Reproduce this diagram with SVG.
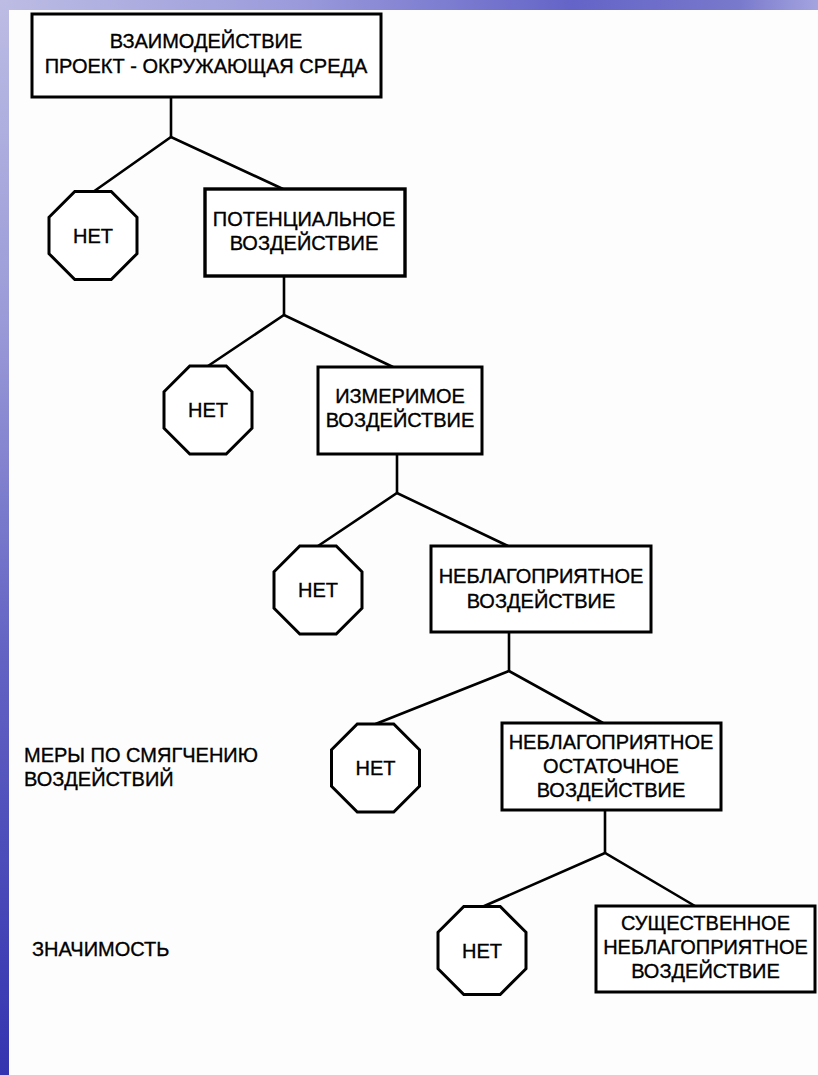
<svg xmlns="http://www.w3.org/2000/svg" width="818" height="1075" viewBox="0 0 818 1075">
<defs>
<linearGradient id="topg" x1="0" y1="0" x2="1" y2="0">
<stop offset="0" stop-color="#bcbce4"/>
<stop offset="0.35" stop-color="#9c9cdc"/>
<stop offset="0.7" stop-color="#6464c8"/>
<stop offset="0.9" stop-color="#7878cc"/>
<stop offset="1" stop-color="#a4a4e0"/>
</linearGradient>
<linearGradient id="leftg" x1="0" y1="0" x2="0" y2="1">
<stop offset="0" stop-color="#bcbce4"/>
<stop offset="0.3" stop-color="#9a9ad8"/>
<stop offset="0.6" stop-color="#6464c4"/>
<stop offset="1" stop-color="#3434b0"/>
</linearGradient>
<polygon id="oct" points="-18.2,-44 18.2,-44 44,-18.2 44,18.2 18.2,44 -18.2,44 -44,18.2 -44,-18.2"/>
</defs>
<style>
.box{fill:#ffffff;stroke:#000;stroke-width:3}
.oct{fill:#ffffff;stroke:#000;stroke-width:3}
.ln{fill:none;stroke:#000;stroke-width:2.6;stroke-linejoin:miter}
.t{font-family:"Liberation Sans",Arial,sans-serif;font-size:20px;fill:#000;stroke:#000;stroke-width:0.35;text-anchor:middle}
.lbl{font-family:"Liberation Sans",Arial,sans-serif;font-size:20px;fill:#000;stroke:#000;stroke-width:0.35}
</style>
<rect x="0" y="0" width="818" height="1075" fill="#fdfdfd"/>
<rect x="0" y="0" width="818" height="10" fill="url(#topg)"/>
<rect x="0" y="0" width="9" height="1075" fill="url(#leftg)"/>

<g id="connectors">
<polyline class="ln" points="171,97 171,137"/>
<polyline class="ln" points="93,192 171,137 283,189"/>
<polyline class="ln" points="284,276 284,315"/>
<polyline class="ln" points="208,366 284,315 393,367"/>
<polyline class="ln" points="397,454 397,493"/>
<polyline class="ln" points="318,546 397,493 508,546"/>
<polyline class="ln" points="509,632 509,671"/>
<polyline class="ln" points="375.5,724 509,671 603,723"/>
<polyline class="ln" points="605,810 605,853"/>
<polyline class="ln" points="482,907 605,853 695,906"/>
</g>

<g id="n1">
<rect class="box" x="32" y="14" width="349" height="83"/>
<text class="t" x="206" y="48">ВЗАИМОДЕЙСТВИЕ</text>
<text class="t" x="206" y="73">ПРОЕКТ - ОКРУЖАЮЩАЯ СРЕДА</text>
</g>
<g id="no1">
<use href="#oct" class="oct" x="93" y="235.5"/>
<text class="t" x="93" y="243">НЕТ</text>
</g>
<g id="n2">
<rect class="box" x="205" y="189" width="200" height="87" style="stroke-width:3.4"/>
<text class="t" x="304" y="226">ПОТЕНЦИАЛЬНОЕ</text>
<text class="t" x="304" y="250">ВОЗДЕЙСТВИЕ</text>
</g>
<g id="no2">
<use href="#oct" class="oct" x="208" y="410"/>
<text class="t" x="208" y="417">НЕТ</text>
</g>
<g id="n3">
<rect class="box" x="318" y="367" width="164" height="87"/>
<text class="t" x="400" y="403">ИЗМЕРИМОЕ</text>
<text class="t" x="400" y="427">ВОЗДЕЙСТВИЕ</text>
</g>
<g id="no3">
<use href="#oct" class="oct" x="318" y="590"/>
<text class="t" x="318" y="597">НЕТ</text>
</g>
<g id="n4">
<rect class="box" x="431" y="546" width="220" height="86"/>
<text class="t" x="541" y="583">НЕБЛАГОПРИЯТНОЕ</text>
<text class="t" x="541" y="608">ВОЗДЕЙСТВИЕ</text>
</g>
<g id="no4">
<use href="#oct" class="oct" x="375.5" y="768"/>
<text class="t" x="375.5" y="775">НЕТ</text>
</g>
<g id="n5">
<rect class="box" x="502" y="723" width="219" height="87"/>
<text class="t" x="611" y="749">НЕБЛАГОПРИЯТНОЕ</text>
<text class="t" x="611" y="773">ОСТАТОЧНОЕ</text>
<text class="t" x="611" y="797">ВОЗДЕЙСТВИЕ</text>
</g>
<g id="no5">
<use href="#oct" class="oct" x="482" y="950.5"/>
<text class="t" x="482" y="957.5">НЕТ</text>
</g>
<g id="n6">
<rect class="box" x="596" y="906" width="219" height="86"/>
<text class="t" x="705.5" y="930">СУЩЕСТВЕННОЕ</text>
<text class="t" x="705.5" y="954">НЕБЛАГОПРИЯТНОЕ</text>
<text class="t" x="705.5" y="978">ВОЗДЕЙСТВИЕ</text>
</g>

<g id="labels">
<text class="lbl" x="24" y="762">МЕРЫ ПО СМЯГЧЕНИЮ</text>
<text class="lbl" x="24" y="786">ВОЗДЕЙСТВИЙ</text>
<text class="lbl" x="32" y="956">ЗНАЧИМОСТЬ</text>
</g>
</svg>
